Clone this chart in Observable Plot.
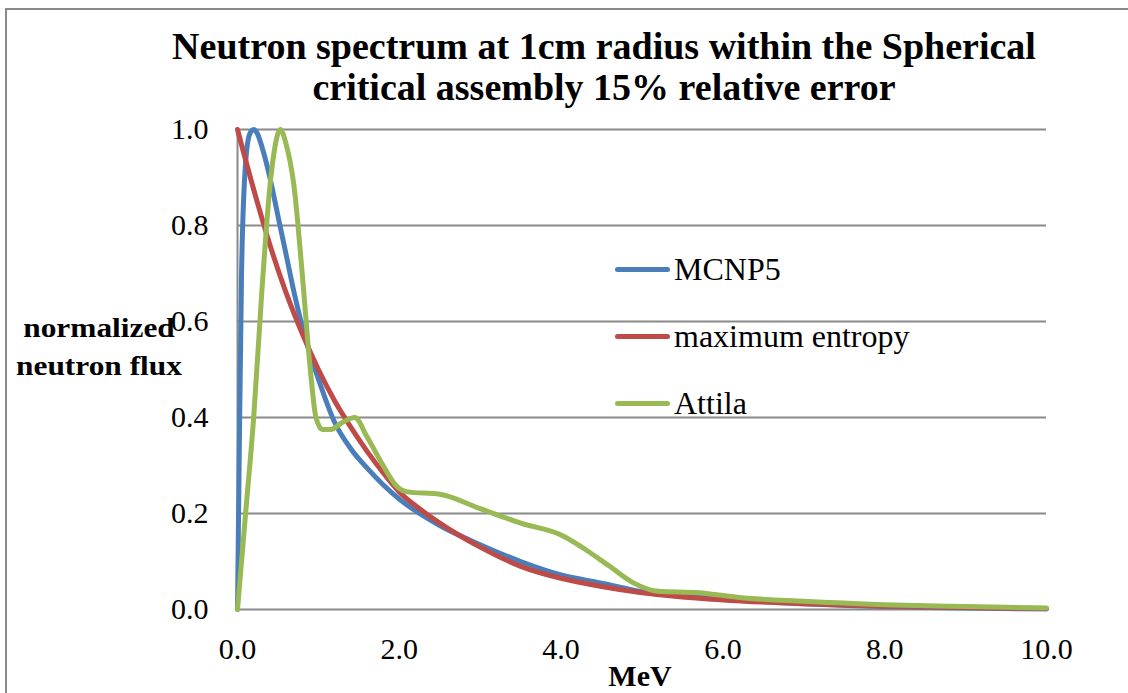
<!DOCTYPE html>
<html>
<head>
<meta charset="utf-8">
<script src="https://cdn.jsdelivr.net/npm/d3@7"></script>
<script src="https://cdn.jsdelivr.net/npm/@observablehq/plot@0.6"></script>
<style>
  html, body { margin: 0; padding: 0; background: #fff; }
  #wrap { position: relative; width: 1128px; height: 693px; overflow: hidden; font-family: "Liberation Serif", "Times New Roman", serif; }
  #frame { position: absolute; left: 5px; top: 8px; width: 1140px; height: 720px; border-left: 2px solid #8a8a8a; border-top: 2px solid #8a8a8a; }
  #title { position: absolute; left: 0; width: 1208px; top: 26px; text-align: center; font-weight: bold; font-size: 38px; line-height: 41px; color: #000; }
  #ylab { position: absolute; left: -1px; width: 200px; top: 309px; text-align: center; font-weight: bold; font-size: 28px; line-height: 38px; color: #000; transform: scaleX(1.12); transform-origin: center; }
  #xlab { position: absolute; left: 540px; width: 200px; top: 659px; text-align: center; font-weight: bold; font-size: 30px; color: #000; }
  #chart { position: absolute; left: 0; top: 0; }
  .leg { position: absolute; left: 615px; font-size: 32px; color: #000; white-space: nowrap; line-height: 36px; }
  .leg span.sw { display: inline-block; width: 55px; height: 5px; border-radius: 3px; vertical-align: middle; margin-right: 4px; position: relative; top: -3px; }
</style>
</head>
<body>
<div id="wrap">
  <div id="chart"></div>
  <div id="frame"></div>
  <div id="title">Neutron spectrum at 1cm radius within the Spherical<br>critical assembly 15% relative error</div>
  <div id="ylab">normalized<br>neutron flux</div>
  <div id="xlab">MeV</div>
  <div id="legend"></div>
</div>
<script>
// Series names and colours
const seriesNames = ["MCNP5", "maximum entropy", "Attila"];
const seriesColors = ["#4a7ebb", "#be4b48", "#98b954"];

// MCNP5 (energy in MeV, normalized flux)
const mcnpE = [0, 0.02, 0.05, 0.1, 0.15, 0.2, 0.25, 0.3, 0.4, 0.5, 0.6, 0.7, 0.8, 0.9, 1.0, 1.2, 1.4, 1.6, 1.8, 2.0, 2.5, 3.0, 3.5, 4.0, 4.5, 5.0, 6.0, 7.0, 8.0, 9.0, 10.0];
const mcnpF = [0, 0.3, 0.7, 0.93, 0.99, 1.0, 0.99, 0.965, 0.9, 0.82, 0.74, 0.66, 0.59, 0.53, 0.48, 0.39, 0.335, 0.295, 0.26, 0.23, 0.175, 0.135, 0.1, 0.072, 0.055, 0.037, 0.022, 0.012, 0.006, 0.003, 0.001];

// maximum entropy
const maxentE = [0, 0.2, 0.4, 0.6, 0.8, 1.0, 1.2, 1.4, 1.6, 1.8, 2.0, 2.25, 2.5, 3.0, 3.5, 4.0, 4.5, 5.0, 6.0, 7.0, 8.0, 9.0, 10.0];
const maxentF = [1.0, 0.875, 0.76, 0.66, 0.575, 0.5, 0.435, 0.38, 0.33, 0.285, 0.245, 0.21, 0.18, 0.13, 0.09, 0.065, 0.048, 0.035, 0.02, 0.012, 0.007, 0.004, 0.002];

// Attila
const attilaE = [0, 0.1, 0.2, 0.3, 0.4, 0.45, 0.53, 0.6, 0.7, 0.8, 0.9, 0.97, 1.05, 1.15, 1.3, 1.45, 1.6, 1.8, 1.95, 2.1, 2.5, 3.0, 3.5, 4.0, 4.3, 4.6, 4.9, 5.2, 5.7, 6.2, 7.0, 8.0, 9.0, 10.0];
const attilaF = [0, 0.2, 0.4, 0.66, 0.88, 0.95, 1.0, 0.97, 0.88, 0.7, 0.5, 0.4, 0.375, 0.375, 0.39, 0.4, 0.36, 0.3, 0.26, 0.245, 0.24, 0.21, 0.18, 0.155, 0.125, 0.09, 0.055, 0.038, 0.035, 0.025, 0.017, 0.01, 0.006, 0.003];

// Ticks
const xTicks = [0, 2, 4, 6, 8, 10];
const yTicks = [0, 0.2, 0.4, 0.6, 0.8, 1.0];

const rows = [];
[[mcnpE, mcnpF], [maxentE, maxentF], [attilaE, attilaF]].forEach(([es, fs], i) => {
  es.forEach((e, j) => rows.push({series: seriesNames[i], e, f: fs[j]}));
});

const serif = "'Liberation Serif', 'Times New Roman', serif";

const plot = Plot.plot({
  width: 1128,
  height: 693,
  marginLeft: 237,
  marginRight: 82,
  marginTop: 129,
  marginBottom: 84,
  style: {fontFamily: serif, background: "transparent"},
  x: {domain: [0, 10]},
  y: {domain: [0, 1]},
  color: {domain: seriesNames, range: seriesColors},
  marks: [
    Plot.gridY(yTicks, {stroke: "#8a8a8a", strokeOpacity: 1, strokeWidth: 2}),
    Plot.ruleX([0], {stroke: "#8a8a8a", strokeWidth: 2}),
    Plot.axisY({ticks: yTicks, tickSize: 0, tickPadding: 29, tickFormat: d3.format(".1f"), fontSize: 30, fontFamily: serif, fill: "#000", label: null}),
    Plot.axisX({ticks: xTicks, tickSize: 0, tickPadding: 28, tickFormat: d3.format(".1f"), fontSize: 30, fontFamily: serif, fill: "#000", label: null}),
    Plot.line(rows, {x: "e", y: "f", z: "series", stroke: "series", strokeWidth: 5, curve: "monotone-x"})
  ]
});
document.getElementById("chart").appendChild(plot);

const legend = document.getElementById("legend");
const legTops = [251, 318, 385];
seriesNames.forEach((name, i) => {
  const d = document.createElement("div");
  d.className = "leg";
  d.style.top = legTops[i] + "px";
  d.innerHTML = `<span class="sw" style="background:${seriesColors[i]}"></span>${name}`;
  legend.appendChild(d);
});
</script>
</body>
</html>
